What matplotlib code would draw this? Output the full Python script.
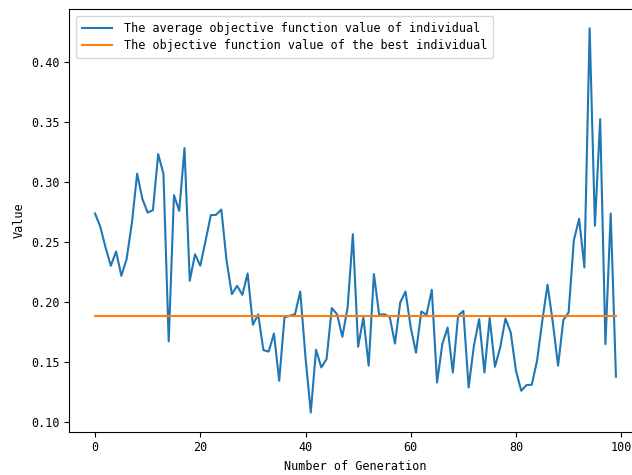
import matplotlib
matplotlib.use("Agg")
import matplotlib.pyplot as plt

generations = list(range(100))
avg_values = [
    0.2739, 0.2628, 0.2456, 0.2304, 0.2423, 0.2220, 0.2360, 0.2660, 0.3070, 0.2860,
    0.2747, 0.2767, 0.3233, 0.3070, 0.1674, 0.2892, 0.2761, 0.3283, 0.2179, 0.2400,
    0.2304, 0.2510, 0.2725, 0.2728, 0.2772, 0.2345, 0.2068, 0.2137, 0.2062, 0.2240,
    0.1813, 0.1900, 0.1602, 0.1590, 0.1740, 0.1347, 0.1874, 0.1888, 0.1900, 0.2090,
    0.1540, 0.1083, 0.1605, 0.1458, 0.1527, 0.1952, 0.1900, 0.1713, 0.1957, 0.2567,
    0.1630, 0.1874, 0.1472, 0.2235, 0.1896, 0.1900, 0.1880, 0.1657, 0.1998, 0.2090,
    0.1790, 0.1582, 0.1923, 0.1896, 0.2104, 0.1333, 0.1652, 0.1790, 0.1416, 0.1888,
    0.1929, 0.1291, 0.1638, 0.1860, 0.1416, 0.1869, 0.1463, 0.1624, 0.1865, 0.1749,
    0.1430, 0.1264, 0.1311, 0.1314, 0.1513, 0.1846, 0.2146, 0.1832, 0.1472, 0.1852,
    0.1915, 0.2517, 0.2695, 0.2290, 0.4281, 0.2637, 0.3524, 0.1652, 0.2739, 0.1380,
]
best_value = 0.1882
best_values = [best_value] * len(generations)

label_avg = "The average objective function value of individual"
label_best = "The objective function value of the best individual"
x_label = "Number of Generation"
y_label = "Value"

plt.rcParams['font.family'] = ['DejaVu Sans Mono']
plt.rcParams['font.size'] = 8.5

W, H = 632, 475
fig = plt.figure(figsize=(W / 100, H / 100), dpi=100)
left, right, top, bottom = 69, 642, 9, 431.7
ax = fig.add_axes([left / W, 1 - bottom / H, (right - left) / W, (bottom - top) / H])

ax.plot(generations, avg_values, color='C0', label=label_avg)
ax.plot(generations, best_values, color='C1', label=label_best)
ax.set_xlabel(x_label)
ax.set_ylabel(y_label)
ax.legend(loc='upper left', handlelength=2.55, handletextpad=0.98,
          borderpad=0.5, labelspacing=0.38, borderaxespad=0.6)

fig.savefig("out.png", dpi=100)
